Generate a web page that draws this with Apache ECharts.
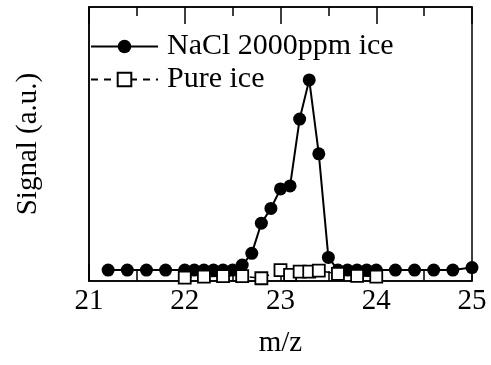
<!DOCTYPE html>
<html>
<head>
<meta charset="utf-8">
<script src="https://cdn.jsdelivr.net/npm/echarts@6/dist/echarts.min.js"></script>
<style>html,body{margin:0;padding:0;background:#fff}#c{width:491px;height:365px}</style>
</head>
<body>
<div id="c"></div>
<script>
const naclMz = [21.2,21.4,21.6,21.8,22.0,22.1,22.2,22.3,22.4,22.5,22.6,22.7,22.8,22.9,23.0,23.1,23.2,23.3,23.4,23.5,23.6,23.7,23.8,23.9,24.0,24.2,24.4,24.6,24.8,25.0];
const naclSignal = [4.0,4.0,4.0,4.0,4.0,4.0,4.0,4.0,4.0,4.0,5.8,10.1,21.1,26.5,33.6,34.7,59.1,73.4,46.4,8.6,4.0,4.0,4.0,4.0,4.0,4.0,4.0,4.0,4.0,4.9];
const pureMz = [22.0,22.2,22.4,22.6,22.8,23.0,23.1,23.2,23.3,23.4,23.6,23.8,24.0];
const pureSignal = [1.2,1.6,1.8,1.8,1.0,4.0,2.2,3.4,3.4,3.8,2.6,1.9,1.6];
const xTicks = [21,22,23,24,25];
const seriesNames = ['NaCl 2000ppm ice','Pure ice'];

const font = 'Liberation Serif';
const chart = echarts.init(document.getElementById('c'));
const pair = (xs, ys) => xs.map((x,i)=>[x, ys[i]]);
chart.setOption({
  animation:false,
  grid:{left:89,right:19,top:7,bottom:84,show:true,borderColor:'#000',borderWidth:1.5,backgroundColor:'transparent'},
  legend:{
    orient:'vertical',left:90,top:30,itemGap:0,itemWidth:67,itemHeight:17,padding:0,
    textStyle:{fontFamily:font,fontSize:30,color:'#000',lineHeight:33,padding:[0,0,0,4]},
    data:seriesNames
  },
  xAxis:[{
    type:'value',min:xTicks[0],max:xTicks[xTicks.length-1],interval:1,position:'bottom',
    axisLine:{lineStyle:{color:'#000',width:1.5}},
    axisTick:{inside:true,length:17,lineStyle:{color:'#000',width:1.5}},
    minorTick:{show:true,splitNumber:2,length:10,lineStyle:{color:'#000',width:1.5}},
    splitLine:{show:false},
    axisLabel:{fontFamily:font,fontSize:29,color:'#000',margin:6},
    name:'m/z',nameLocation:'middle',nameGap:48,
    nameTextStyle:{fontFamily:font,fontSize:29,color:'#000'}
  },{
    type:'value',min:xTicks[0],max:xTicks[xTicks.length-1],interval:1,position:'top',
    axisLine:{lineStyle:{color:'#000',width:1.5}},
    axisTick:{inside:true,length:17,lineStyle:{color:'#000',width:1.5}},
    minorTick:{show:true,splitNumber:2,length:9,lineStyle:{color:'#000',width:1.5}},
    splitLine:{show:false},axisLabel:{show:false}
  }],
  yAxis:{
    type:'value',min:0,max:100,
    axisLine:{show:true,lineStyle:{color:'#000',width:1.5}},
    axisTick:{show:false},axisLabel:{show:false},splitLine:{show:false},
    name:'Signal (a.u.)',nameLocation:'middle',nameGap:46,
    nameTextStyle:{fontFamily:font,fontSize:29,color:'#000'}
  },
  series:[{
    name:seriesNames[0],type:'line',data:pair(naclMz,naclSignal),
    symbol:'circle',symbolSize:13,
    lineStyle:{color:'#000',width:2},
    itemStyle:{color:'#000',borderColor:'#000',borderWidth:0}
  },{
    name:seriesNames[1],type:'line',data:pair(pureMz,pureSignal),
    symbol:'rect',symbolSize:12,
    lineStyle:{color:'#000',width:1.5,type:[7,6]},
    itemStyle:{color:'#fff',borderColor:'#000',borderWidth:1.8}
  }]
});
</script>
</body>
</html>
